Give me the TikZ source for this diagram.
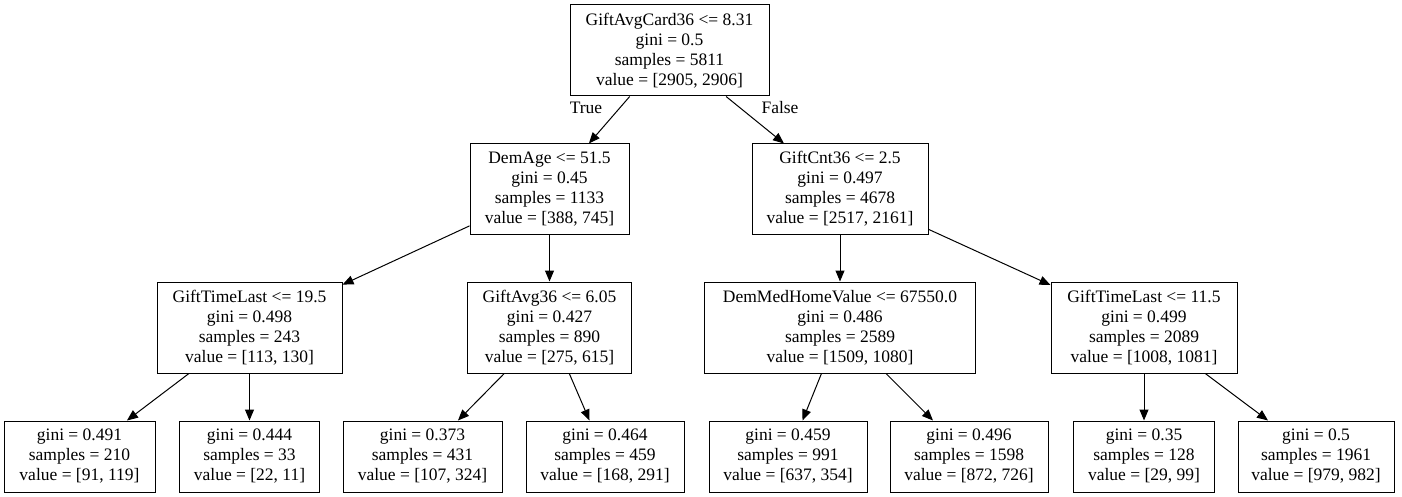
\documentclass[tikz,border=0pt]{standalone}
\usepackage{fontspec}
\setmainfont{Liberation Serif}
\usepackage{tikz}
\usetikzlibrary{arrows.meta,positioning}
\tikzset
{
    treenode/.style = {draw=black, line width=1pt, rectangle, align=center, inner sep=0pt, font=\fontsize{17.5}{20}\selectfont},
    splitnode/.style = {treenode, minimum height=91pt},
    leafnode/.style  = {treenode, minimum height=71pt},
    edgelabel/.style = {font=\fontsize{17.5}{20}\selectfont, inner sep=0pt}
}

\begin{document}
\begin{tikzpicture}[->, >={Triangle[length=11pt,width=9pt]}, line width=1pt, x=1pt, y=-1pt]
    \useasboundingbox (0,0) rectangle (1402,497);
    \node [splitnode, minimum width=199pt] (root) at (669.5,50.5) {GiftAvgCard36 <= 8.31\\gini = 0.5\\samples = 5811\\value = [2905, 2906]};

    \node [splitnode, minimum width=159pt, minimum height=90pt] (demage) at (549.5,189) {DemAge <= 51.5\\gini = 0.45\\samples = 1133\\value = [388, 745]};
    \node [splitnode, minimum width=176pt, minimum height=90pt] (giftcnt) at (840,189) {GiftCnt36 <= 2.5\\gini = 0.497\\samples = 4678\\value = [2517, 2161]};

    \node [splitnode, minimum width=185pt] (timelastA) at (249.5,327.5) {GiftTimeLast <= 19.5\\gini = 0.498\\samples = 243\\value = [113, 130]};
    \node [splitnode, minimum width=164pt] (giftavg) at (549.5,327.5) {GiftAvg36 <= 6.05\\gini = 0.427\\samples = 890\\value = [275, 615]};
    \node [splitnode, minimum width=271pt] (homevalue) at (840,327.5) {DemMedHomeValue <= 67550.0\\gini = 0.486\\samples = 2589\\value = [1509, 1080]};
    \node [splitnode, minimum width=186pt] (timelastB) at (1144,327.5) {GiftTimeLast <= 11.5\\gini = 0.499\\samples = 2089\\value = [1008, 1081]};

    \node [leafnode, minimum width=151pt] (leafA) at (79.5,456.5) {gini = 0.491\\samples = 210\\value = [91, 119]};
    \node [leafnode, minimum width=140pt] (leafB) at (249.5,456.5) {gini = 0.444\\samples = 33\\value = [22, 11]};
    \node [leafnode, minimum width=159pt] (leafC) at (422.5,456.5) {gini = 0.373\\samples = 431\\value = [107, 324]};
    \node [leafnode, minimum width=158pt] (leafD) at (605,456.5) {gini = 0.464\\samples = 459\\value = [168, 291]};
    \node [leafnode, minimum width=158pt] (leafE) at (788,456.5) {gini = 0.459\\samples = 991\\value = [637, 354]};
    \node [leafnode, minimum width=158pt] (leafF) at (969,456.5) {gini = 0.496\\samples = 1598\\value = [872, 726]};
    \node [leafnode, minimum width=141pt] (leafG) at (1144,456.5) {gini = 0.35\\samples = 128\\value = [29, 99]};
    \node [leafnode, minimum width=156pt] (leafH) at (1316,456.5) {gini = 0.5\\samples = 1961\\value = [979, 982]};

    \node [edgelabel] (truelabel) at (586,108) {True};
    \node [edgelabel] (falselabel) at (780,108) {False};

    \draw (root) -- (demage);
    \draw (root) -- (giftcnt);
    \draw (demage) -- (timelastA);
    \draw (demage) -- (giftavg);
    \draw (giftcnt) -- (homevalue);
    \draw (giftcnt) -- (timelastB);
    \draw (timelastA) -- (leafA);
    \draw (timelastA) -- (leafB);
    \draw (giftavg) -- (leafC);
    \draw (giftavg) -- (leafD);
    \draw (homevalue) -- (leafE);
    \draw (homevalue) -- (leafF);
    \draw (timelastB) -- (leafG);
    \draw (timelastB) -- (leafH);
\end{tikzpicture}
\end{document}
